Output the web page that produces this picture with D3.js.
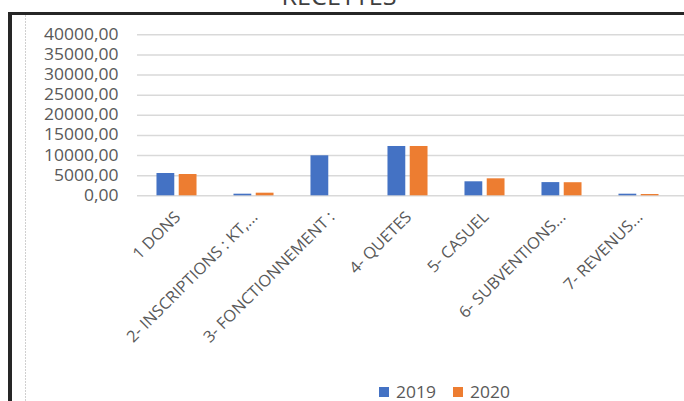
<!DOCTYPE html>
<html>
<head>
<meta charset="utf-8">
<script src="https://cdn.jsdelivr.net/npm/d3@7"></script>
<style>
  body { margin: 0; background: #fff; }
  text { font-family: "Open Sans", sans-serif; }
</style>
</head>
<body>
<svg width="684" height="401"></svg>
<script>
var categories = ["1 DONS", "2- INSCRIPTIONS : KT,...", "3- FONCTIONNEMENT :", "4- QUETES",
                  "5- CASUEL", "6- SUBVENTIONS...", "7- REVENUS..."];
var seriesNames = ["2019", "2020"];
var values2019 = [5540, 400, 9940, 12250, 3480, 3280, 400];
var values2020 = [5290, 650, 0, 12250, 4220, 3250, 320];
var yTicks = [0, 5000, 10000, 15000, 20000, 25000, 30000, 35000, 40000];
var colors = ["#4472c4", "#ed7d31"];

var data = categories.map(function(c, i) {
  return {cat: c, vals: [values2019[i], values2020[i]]};
});

var svg = d3.select("svg");

// frame bits
svg.append("rect").attr("x", 8).attr("y", 12).attr("width", 700).attr("height", 3).attr("fill", "#262626");
svg.append("rect").attr("x", 8).attr("y", 12).attr("width", 4).attr("height", 400).attr("fill", "#262626");
svg.append("line").attr("x1", 25.5).attr("x2", 25.5).attr("y1", 15).attr("y2", 401)
    .attr("stroke", "#d0d0d0").attr("stroke-width", 1).attr("stroke-dasharray", "2,1");

// title (mostly cut off at top)
svg.append("text")
    .attr("transform", "translate(339,4.5) scale(1.05,1)")
    .attr("text-anchor", "middle")
    .attr("font-size", 24)
    .attr("fill", "#404040")
    .text("RECETTES");

var x = d3.scaleBand()
    .domain(categories)
    .range([138, 677])
    .paddingInner(0.48)
    .paddingOuter(0.24);

var x1 = d3.scaleBand()
    .domain(seriesNames)
    .range([0, x.bandwidth()])
    .paddingInner(0.2);

var y = d3.scaleLinear()
    .domain([0, 40000])
    .range([195.3, 34.3]);

var fmt = d3.formatLocale({decimal: ",", thousands: "", grouping: [3], currency: ["", ""]}).format(".2f");

// gridlines
svg.append("g")
    .attr("transform", "translate(137,0)")
    .call(d3.axisRight(y).tickValues(yTicks).tickSize(684 - 137).tickFormat(""))
    .call(function(g) {
      g.select(".domain").remove();
      g.selectAll(".tick line").attr("stroke", "#d9d9d9").attr("stroke-width", 1.5);
    });

// y labels
svg.append("g")
    .attr("transform", "translate(118.5,0)")
    .call(d3.axisLeft(y).tickValues(yTicks).tickSize(0).tickPadding(0).tickFormat(fmt))
    .call(function(g) {
      g.select(".domain").remove();
      g.selectAll("text")
        .attr("font-family", "Open Sans")
        .attr("font-size", 15.5)
        .attr("fill", "#595959")
        .attr("transform", "scale(1.13,1)");
    });

// bars
var groups = svg.append("g").selectAll("g")
    .data(data)
    .enter().append("g")
    .attr("transform", function(d) { return "translate(" + x(d.cat) + ",0)"; });

groups.selectAll("rect")
    .data(function(d) { return d.vals.map(function(v, i) { return {s: seriesNames[i], v: v, i: i}; }); })
    .enter().append("rect")
    .attr("x", function(d) { return x1(d.s); })
    .attr("y", function(d) { return y(d.v); })
    .attr("width", x1.bandwidth())
    .attr("height", function(d) { return y(0) - y(d.v); })
    .attr("fill", function(d) { return colors[d.i]; });

// x labels, rotated
svg.append("g").selectAll("text")
    .data(categories)
    .enter().append("text")
    .attr("transform", function(d) {
      var cx = x(d) + x.bandwidth() / 2 + 5;
      return "translate(" + cx + ",218) rotate(-45) scale(1.03,1)";
    })
    .attr("text-anchor", "end")
    .attr("font-size", 16)
    .attr("fill", "#595959")
    .text(function(d) { return d; });

// legend
var legend = svg.append("g").selectAll("g")
    .data(seriesNames)
    .enter().append("g")
    .attr("transform", function(d, i) { return "translate(" + (379 + i * 74) + ",0)"; });
legend.append("rect")
    .attr("x", 0).attr("y", 387).attr("width", 10).attr("height", 10)
    .attr("fill", function(d, i) { return colors[i]; });
legend.append("text")
    .attr("transform", "translate(17,397.5) scale(1.09,1)")
    .attr("font-size", 16)
    .attr("fill", "#595959")
    .text(function(d) { return d; });
</script>
</body>
</html>
